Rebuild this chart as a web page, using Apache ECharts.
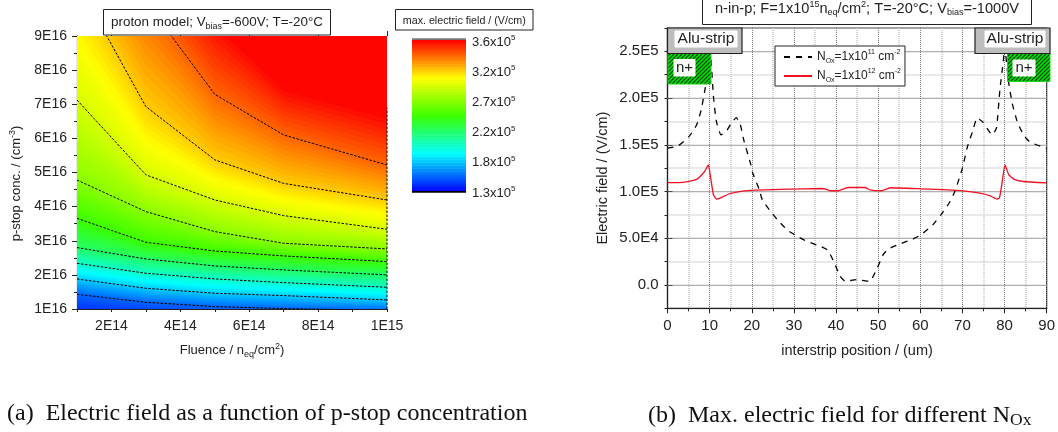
<!DOCTYPE html>
<html>
<head>
<meta charset="utf-8">
<style>html,body{margin:0;padding:0;background:#fff}#main{width:1058px;height:432px}</style>
<script src="https://cdn.jsdelivr.net/npm/echarts@6/dist/echarts.min.js"></script>
</head>
<body>
<div id="main"></div>
<script>
// left plot: iso-field lines read at each simulated fluence, conc in 1E16
const fluence = [1e14, 3e14, 5e14, 7e14, 1e15];
const levels = [1.3, 1.535, 1.77, 2.005, 2.24, 2.475, 2.71, 2.945, 3.18, 3.415, 3.65];
const iso0 = [0.55, 0.5, 0.45, 0.4, 0.4];
const iso1 = [1.43, 1.197, 1.07, 1.012, 0.96];
const iso2 = [1.88, 1.607, 1.461, 1.393, 1.266];
const iso3 = [2.34, 2.047, 1.881, 1.773, 1.637];
const iso4 = [2.80, 2.467, 2.262, 2.145, 2.0];
const iso5 = [3.658, 2.955, 2.70, 2.555, 2.389];
const iso6 = [4.78, 3.854, 3.268, 2.926, 2.76];
const iso7 = [7.125, 4.93, 4.195, 3.736, 3.336];
const iso8 = [10.57, 6.93, 5.37, 4.68, 4.195];
const iso9 = [13, 10.0, 7.29, 6.10, 5.22];
const iso10 = [15, 12, 9.56, 7.54, 6.73];
const isoLines = [iso0, iso1, iso2, iso3, iso4, iso5, iso6, iso7, iso8, iso9, iso10];
const edgeLine = [[1e15, 1e16], [1e15, 6.9e16]];

const colorTicks = [1.3e5, 1.77e5, 2.24e5, 2.71e5, 3.18e5, 3.65e5];
const colorLabels = ['1.3', '1.8', '2.2', '2.7', '3.2', '3.6'];

// right plot
const posA = [0, 2.5, 5.1, 6.9, 8, 9, 9.8, 10, 10.4, 10.9, 11.6, 12.7, 13.9, 15, 16.3, 17.2, 18.2, 19.8, 20.2, 21.8, 22.5, 24.5, 26.1, 28.4, 30.8, 33.1, 36.3, 38.1, 39.6, 41, 42.2, 44.9, 48, 49.6, 51.2, 52.4, 54.7, 58.2, 60.2, 63, 64.9, 66.9, 68.2, 70, 71.2, 72.4, 73.5, 74.7, 77.1, 78.1, 78.9, 79.7, 80, 81, 81.8, 83, 84.5, 86, 90];
const fieldA = [1.464e5, 1.488e5, 1.588e5, 1.712e5, 1.873e5, 2.12e5, 2.37e5, 2.55e5, 2.37e5, 2.02e5, 1.75e5, 1.606e5, 1.64e5, 1.72e5, 1.79e5, 1.73e5, 1.534e5, 1.285e5, 1.2e5, 1.018e5, 9.1e4, 7.86e4, 6.97e4, 5.9e4, 5.2e4, 4.66e4, 4.13e4, 3.7e4, 2.35e4, 9.2e3, 3.9e3, 5.7e3, 3.9e3, 1.63e4, 3.24e4, 3.85e4, 4.3e4, 4.9e4, 5.37e4, 6.44e4, 7.5e4, 8.8e4, 1.0e5, 1.25e5, 1.48e5, 1.64e5, 1.787e5, 1.75e5, 1.606e5, 1.68e5, 2.09e5, 2.39e5, 2.55e5, 2.16e5, 1.95e5, 1.75e5, 1.606e5, 1.53e5, 1.46e5];
const posB = [0, 3.7, 6.9, 8.8, 9.7, 10.2, 10.9, 11.6, 12.3, 14.7, 17.8, 21, 28.8, 36.6, 37.5, 38.6, 40.6, 41.8, 43, 46.9, 48, 50.7, 51.9, 53, 59.4, 69.6, 74.2, 76.6, 78.2, 78.8, 79.4, 80.1, 81, 82.2, 84.5, 90];
const fieldB = [1.096e5, 1.098e5, 1.13e5, 1.214e5, 1.285e5, 1.16e5, 9.65e4, 9.2e4, 9.26e4, 9.76e4, 1.005e5, 1.015e5, 1.025e5, 1.032e5, 1.026e5, 1.008e5, 1.008e5, 1.029e5, 1.043e5, 1.043e5, 1.018e5, 1.008e5, 1.025e5, 1.04e5, 1.03e5, 1.01e5, 9.83e4, 9.54e4, 9.19e4, 9.33e4, 1.09e5, 1.285e5, 1.18e5, 1.132e5, 1.107e5, 1.093e5];
const majorY = [0, 5e4, 1e5, 1.5e5, 2e5, 2.5e5];
const evenFluence = [2e14, 4e14, 6e14, 8e14, 1e15];

const FONT = 'Liberation Sans';
const TXT = '#222';
const SUBSTEPS = 10;

const stops = [[0, 0, 255], [0, 255, 255], [60, 255, 0], [255, 255, 0], [255, 0, 0]];
function fieldColor(v) {
    let f = (v - 1.3) / (3.65 - 1.3) * 4;
    f = Math.max(0, Math.min(3.9999, f));
    const i = Math.floor(f), t = f - i;
    const c = stops[i].map((s, k) => Math.round(s + (stops[i + 1][k] - s) * t));
    return 'rgb(' + c.join(',') + ')';
}

// filled bands: painter's order, every polygon runs from its curve up past the plot top
const bandIndex = [];
for (let b = 0; b < levels.length - 1; b++) {
    for (let s = 0; s < SUBSTEPS; s++) bandIndex.push([b, s]);
}
function renderContour(params, api) {
    const b = api.value(0), s = api.value(1), t = s / SUBSTEPS;
    const pts = fluence.map((x, i) => api.coord([x, (isoLines[b][i] * (1 - t) + isoLines[b + 1][i] * t) * 1e16]));
    pts.push(api.coord([1e15, 2e17]), api.coord([1e14, 2e17]));
    const v = levels[b] + (levels[b + 1] - levels[b]) * (s + 0.5) / SUBSTEPS;
    return {type: 'polygon', shape: {points: pts}, style: {fill: fieldColor(v), stroke: fieldColor(v), lineWidth: 0.5}};
}
function renderBar(params, api) {
    const b = api.value(0), s = api.value(1);
    const lo = levels[b] + (levels[b + 1] - levels[b]) * s / SUBSTEPS;
    const hi = levels[b] + (levels[b + 1] - levels[b]) * (s + 1) / SUBSTEPS;
    const p0 = api.coord([0, lo * 1e5]), p1 = api.coord([1, hi * 1e5]);
    return {type: 'rect', shape: {x: p0[0], y: p1[1], width: p1[0] - p0[0], height: p0[1] - p1[1] + 0.5},
        style: {fill: fieldColor((lo + hi) / 2)}};
}

const richText = {
    sub: {fontFamily: FONT, fontSize: 9, verticalAlign: 'bottom', lineHeight: 17, fill: TXT, color: TXT},
    sup: {fontFamily: FONT, fontSize: 9, verticalAlign: 'top', lineHeight: 17, fill: TXT, color: TXT},
    s: {fontFamily: FONT, fontSize: 13, lineHeight: 17, fill: TXT, color: TXT}
};

// box with a text in it, pixel annotation
function box(x, y, w, h, text, size, opt) {
    opt = opt || {};
    return {type: 'group', z: 100, children: [
        {type: 'rect', z: 100, shape: {x: x, y: y, width: w, height: h},
            style: {fill: opt.fill || '#fff', stroke: opt.stroke || '#222', lineWidth: 1}},
        {type: 'text', z: 101, x: x + w / 2, y: y + h / 2 + (opt.dy || 0),
            style: {text: text, rich: richText, fontFamily: FONT, fontSize: size, fill: TXT, align: 'center', verticalAlign: 'middle'}}
    ]};
}
const hatch = document.createElement('canvas');
hatch.width = hatch.height = 4;
const hc = hatch.getContext('2d');
hc.fillStyle = '#00e000';
hc.fillRect(0, 0, 4, 4);
hc.strokeStyle = '#0a300a';
hc.lineWidth = 1.1;
hc.beginPath();
hc.moveTo(-1, 1); hc.lineTo(1, -1);
hc.moveTo(-1, 5); hc.lineTo(5, -1);
hc.moveTo(3, 5); hc.lineTo(5, 3);
hc.stroke();

const leftLabel = {fontFamily: FONT, fontSize: 14, color: TXT};
const rightLabel = {fontFamily: FONT, fontSize: 15, color: TXT};
const axisLine = {show: true, onZero: false, lineStyle: {color: TXT, width: 1.2}};

const contourSeries = isoLines.slice(1, 10).map((line, i) => ({
    type: 'line', xAxisIndex: 0, yAxisIndex: 0, name: 'level' + levels[i + 1], symbol: 'none', z: 5,
    data: fluence.map((x, k) => [x, line[k] * 1e16]),
    lineStyle: {color: '#000', width: 1, type: [2.5, 1.5]}
}));

const legendText = {
    'NOx=1x10^11 cm^-2': '{t|N}{sub|Ox}{t|=1x10}{sup|11}{t| cm}{sup|-2}',
    'NOx=1x10^12 cm^-2': '{t|N}{sub|Ox}{t|=1x10}{sup|12}{t| cm}{sup|-2}'
};

const option = {
    animation: false,
    backgroundColor: '#fff',
    textStyle: {fontFamily: FONT},
    grid: [
        {left: 77, top: 36, width: 310, height: 273},
        {left: 667.5, top: 28, width: 382.5, height: 280.3, show: true, borderColor: TXT, borderWidth: 1.2, backgroundColor: 'transparent'},
        {left: 412, top: 40, width: 54, height: 151}
    ],
    xAxis: [
        {type: 'value', gridIndex: 0, min: 1e14, max: 1e15, interval: 1e14, splitLine: {show: false},
            axisLine: axisLine, axisTick: {length: 3, lineStyle: {color: TXT}},
            axisLabel: Object.assign({}, leftLabel, {margin: 10, customValues: evenFluence,
                formatter: v => v >= 1e15 ? '1E15' : Math.round(v / 1e14) + 'E14'}),
            name: '{s|Fluence / n}{sub|eq}{s|/cm}{sup|2}{s|)}', nameLocation: 'middle', nameGap: 33,
            nameTextStyle: {rich: richText}},
        {type: 'value', gridIndex: 0, min: 1e14, max: 1e15, splitLine: {show: false}, axisLine: {show: false},
            axisLabel: {show: false}, axisTick: {show: true, length: 5, customValues: evenFluence, lineStyle: {color: TXT}}},
        {type: 'value', gridIndex: 1, min: 0, max: 90, interval: 10,
            axisLine: axisLine, axisTick: {length: 5, lineStyle: {color: TXT}},
            minorTick: {show: true, splitNumber: 2, length: 3, lineStyle: {color: TXT}},
            splitLine: {show: true, lineStyle: {color: '#777', width: 1, type: [1, 1]}},
            minorSplitLine: {show: true, lineStyle: {color: '#c4c4c4', width: 1.5, type: [1, 1]}},
            axisLabel: Object.assign({}, rightLabel, {margin: 10}),
            name: 'interstrip position / (um)', nameLocation: 'middle', nameGap: 35,
            nameTextStyle: {fontFamily: FONT, fontSize: 14.5, color: TXT}},
        {type: 'value', gridIndex: 2, min: 0, max: 1, show: false}
    ],
    yAxis: [
        {type: 'value', gridIndex: 0, min: 1e16, max: 9e16, interval: 1e16, splitLine: {show: false},
            axisLine: axisLine, axisTick: {length: 5, lineStyle: {color: TXT}},
            minorTick: {show: true, splitNumber: 2, length: 3, lineStyle: {color: TXT}},
            axisLabel: Object.assign({}, leftLabel, {margin: 10, formatter: v => Math.round(v / 1e16) + 'E16'}),
            name: '{s|p-stop conc. / (cm}{sup|-3}{s|)}', nameLocation: 'middle', nameGap: 52,
            nameTextStyle: {rich: richText, padding: [0, 22, 0, 0]}},
        {type: 'value', gridIndex: 1, min: -2.5e4, max: 2.75e5, interval: 2.5e4,
            axisLine: axisLine, axisTick: {length: 3, lineStyle: {color: TXT}},
            splitLine: {show: true, lineStyle: {color: '#c4c4c4', width: 1.5, type: [1, 1]}},
            axisLabel: Object.assign({}, rightLabel, {margin: 9, customValues: majorY,
                formatter: v => v === 0 ? '0.0' : v < 1e5 ? (v / 1e4).toFixed(1) + 'E4' : (v / 1e5).toFixed(1) + 'E5'}),
            name: 'Electric field / (V/cm)', nameLocation: 'middle', nameGap: 57,
            nameTextStyle: {fontFamily: FONT, fontSize: 14.5, color: TXT, padding: [0, 20, 0, 0]}},
        {type: 'value', gridIndex: 1, min: -2.5e4, max: 2.75e5, splitLine: {show: false}, axisLine: {show: false},
            axisLabel: {show: false}, axisTick: {show: true, length: 5, customValues: majorY, lineStyle: {color: TXT}}},
        {type: 'value', gridIndex: 2, position: 'right', min: 1.3e5, max: 3.65e5,
            splitLine: {show: false}, axisLine: {show: false}, axisTick: {show: false},
            axisLabel: {margin: 6, padding: [4, 0, 0, 0], customValues: colorTicks, formatter: v => {
                const i = colorTicks.findIndex(t => Math.abs(t - v) < 1);
                return '{c|' + colorLabels[i] + 'x10}{e|5}';
            }, rich: {
                c: {fontFamily: FONT, fontSize: 13, color: TXT, lineHeight: 16},
                e: {fontFamily: FONT, fontSize: 8, color: TXT, verticalAlign: 'top', lineHeight: 16}
            }}}
    ],
    legend: {
        left: 775, top: 46, orient: 'vertical', itemWidth: 28, itemHeight: 10, itemGap: 3,
        padding: [3, 4, 2, 8], borderColor: '#222', borderWidth: 1, backgroundColor: '#fff', z: 50,
        itemStyle: {opacity: 0},
        data: Object.keys(legendText),
        formatter: n => legendText[n],
        textStyle: {fontFamily: FONT, fontSize: 12, color: TXT, rich: {
            t: {fontFamily: FONT, fontSize: 12, color: TXT, lineHeight: 16},
            sub: {fontFamily: FONT, fontSize: 7, color: TXT, verticalAlign: 'bottom', lineHeight: 16},
            sup: {fontFamily: FONT, fontSize: 7, color: TXT, verticalAlign: 'top', lineHeight: 16}
        }}
    },
    series: [
        {type: 'custom', name: 'contour', xAxisIndex: 0, yAxisIndex: 0, clip: true, z: 1, renderItem: renderContour,
            encode: {x: 0, y: 1}, data: bandIndex},
        ...contourSeries,
        {type: 'line', name: 'edge', xAxisIndex: 0, yAxisIndex: 0, symbol: 'none', z: 5, clip: false, data: edgeLine,
            lineStyle: {color: '#000', width: 1, type: [2.5, 1.5]}},
        {type: 'custom', name: 'colorbar', xAxisIndex: 3, yAxisIndex: 3, z: 1, renderItem: renderBar,
            encode: {x: 0, y: 1}, data: bandIndex},
        {type: 'line', name: 'gridlines', xAxisIndex: 2, yAxisIndex: 1, data: [], z: 1,
            markLine: {silent: true, symbol: 'none', animation: false, label: {show: false},
                lineStyle: {color: '#777', width: 1, type: [1, 1]},
                data: majorY.map(v => ({yAxis: v}))}},
        {type: 'line', name: 'NOx=1x10^11 cm^-2', xAxisIndex: 2, yAxisIndex: 1, symbol: 'none', z: 6, smooth: 0.15,
            data: posA.map((x, i) => [x, fieldA[i]]),
            lineStyle: {color: '#000', width: 1.3, type: [6, 6]}, itemStyle: {color: '#000'}},
        {type: 'line', name: 'NOx=1x10^12 cm^-2', xAxisIndex: 2, yAxisIndex: 1, symbol: 'none', z: 6, smooth: 0.15,
            data: posB.map((x, i) => [x, fieldB[i]]),
            lineStyle: {color: '#f01020', width: 1.3}, itemStyle: {color: '#f01020'}}
    ],
    graphic: {elements: [
        box(103.5, 9.5, 227, 25.5, 'proton model; V{sub|bias}=-600V; T=-20°C', 13.4),
        box(395.5, 9.5, 137.5, 20.5, 'max. electric field / (V/cm)', 10.7, {dy: 1}),
        box(702.5, -5, 329, 29.5, 'n-in-p; F=1x10{sup|15}n{sub|eq}/cm{sup|2}; T=-20°C; V{sub|bias}=-1000V', 14.6, {dy: -1}),
        {type: 'rect', z: 90, shape: {x: 412, y: 38.3, width: 54, height: 1.8}, style: {fill: '#777'}},
        {type: 'rect', z: 90, shape: {x: 412, y: 191, width: 54, height: 1.7}, style: {fill: '#000'}},
        // n+ implants
        {type: 'rect', z: 95, shape: {x: 668, y: 53.5, width: 43, height: 30.5}, style: {fill: {image: hatch, repeat: 'repeat'}, stroke: '#1fd21f', lineWidth: 1}},
        {type: 'rect', z: 95, shape: {x: 1007.5, y: 53.5, width: 42.5, height: 28}, style: {fill: {image: hatch, repeat: 'repeat'}, stroke: '#1fd21f', lineWidth: 1}},
        box(674, 59.5, 21, 16.5, 'n+', 15, {stroke: '#fff'}),
        box(1013, 60, 22, 16, 'n+', 15, {stroke: '#fff'}),
        // Alu strips
        {type: 'rect', z: 95, shape: {x: 667.5, y: 28, width: 74.5, height: 25.5}, style: {fill: '#bdbdbd', stroke: '#222', lineWidth: 1.2}},
        {type: 'rect', z: 95, shape: {x: 975, y: 28, width: 75, height: 25.5}, style: {fill: '#bdbdbd', stroke: '#222', lineWidth: 1.2}},
        box(675, 31, 62, 16, 'Alu-strip', 15.5, {stroke: '#fff'}),
        box(985, 31, 60, 16, 'Alu-strip', 15.5, {stroke: '#fff'}),
        // captions
        {type: 'text', z: 100, x: 7, y: 402, style: {text: '(a)  Electric field as a function of p-stop concentration',
            font: '24px "Liberation Serif"', fill: '#111'}},
        {type: 'text', z: 100, x: 648, y: 402, style: {text: '(b)  Max. electric field for different N{o|Ox}',
            font: '24px "Liberation Serif"', fill: '#111',
            rich: {o: {font: '17.5px "Liberation Serif"', fill: '#111', verticalAlign: 'bottom', padding: [9, 0, 0, 0]}}}}
    ]}
};

const chart = echarts.init(document.getElementById('main'), null, {renderer: 'canvas'});
chart.setOption(option);
</script>
</body>
</html>
